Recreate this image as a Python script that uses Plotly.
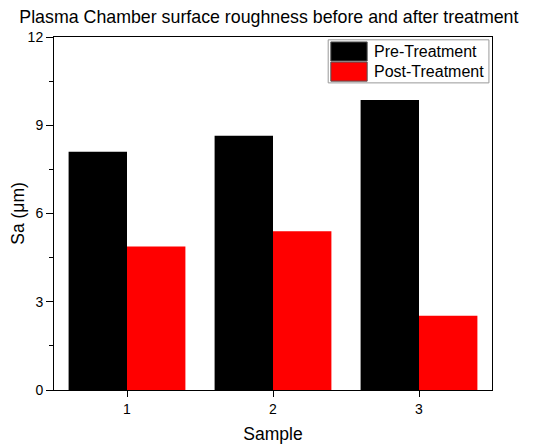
import plotly.graph_objects as go

samples = [1, 2, 3]
pre_treatment = [8.10, 8.64, 9.86]
post_treatment = [4.88, 5.40, 2.52]
series_names = ["Pre-Treatment", "Post-Treatment"]
series_colors = ["#000000", "#ff0000"]

FONT = "Liberation Sans, Arial, sans-serif"

fig = go.Figure()
fig.add_trace(go.Bar(x=samples, y=pre_treatment, name=series_names[0],
                     marker=dict(color=series_colors[0], line=dict(width=0)), showlegend=False))
fig.add_trace(go.Bar(x=samples, y=post_treatment, name=series_names[1],
                     marker=dict(color=series_colors[1], line=dict(width=0)), showlegend=False))

# page has an 8px body margin, so the figure is sized to fit the window
fig.update_layout(
    width=526, height=436,
    margin=dict(l=46, r=42, t=29, b=54, autoexpand=False),
    paper_bgcolor="white", plot_bgcolor="white",
    barmode="group", bargap=0.2, bargroupgap=0,
    font=dict(family=FONT, color="black"),
    title=dict(text="Plasma Chamber surface roughness before and after treatment",
               x=0.496, xanchor="center", y=0.979, yanchor="middle",
               font=dict(size=17.8, family=FONT, color="black")),
    xaxis=dict(range=[0.5, 3.5], tickvals=samples, ticktext=[str(s) for s in samples],
               ticks="outside", ticklen=6, tickwidth=1, tickcolor="black",
               showline=True, linecolor="black", linewidth=1, mirror=True,
               showgrid=False, zeroline=False, automargin=False,
               tickfont=dict(size=14, family=FONT),
               title=dict(text="Sample", font=dict(size=17.5, family=FONT), standoff=14)),
    yaxis=dict(range=[0, 12], tickvals=[0, 3, 6, 9, 12],
               ticks="outside", ticklen=7, tickwidth=1, tickcolor="black",
               minor=dict(tickvals=[1.5, 4.5, 7.5, 10.5], ticks="outside", ticklen=4,
                          tickcolor="black", tickwidth=1, showgrid=False),
               showline=True, linecolor="black", linewidth=1, mirror=True,
               showgrid=False, zeroline=False, automargin=False,
               tickfont=dict(size=14, family=FONT),
               title=dict(text="Sa (μm)", font=dict(size=17.5, family=FONT), standoff=7)),
)

# Custom legend (large swatches like the original)
shapes = [
    dict(type="rect", xref="paper", yref="paper", x0=0.626, x1=0.993, y0=0.870, y1=0.992,
         line=dict(color="#999999", width=1), fillcolor="white", layer="above"),
    dict(type="rect", xref="paper", yref="paper", x0=0.632, x1=0.715, y0=0.932, y1=0.986,
         line=dict(color="#555555", width=1), fillcolor=series_colors[0], layer="above"),
    dict(type="rect", xref="paper", yref="paper", x0=0.632, x1=0.715, y0=0.875, y1=0.929,
         line=dict(color="#555555", width=1), fillcolor=series_colors[1], layer="above"),
]
fig.update_layout(shapes=shapes)
for name, yy in zip(series_names, [0.960, 0.901]):
    fig.add_annotation(xref="paper", yref="paper", x=0.726, y=yy, text=name,
                       showarrow=False, xanchor="left", yanchor="middle",
                       font=dict(size=16, family=FONT, color="black"))

fig.write_html("out.html")
